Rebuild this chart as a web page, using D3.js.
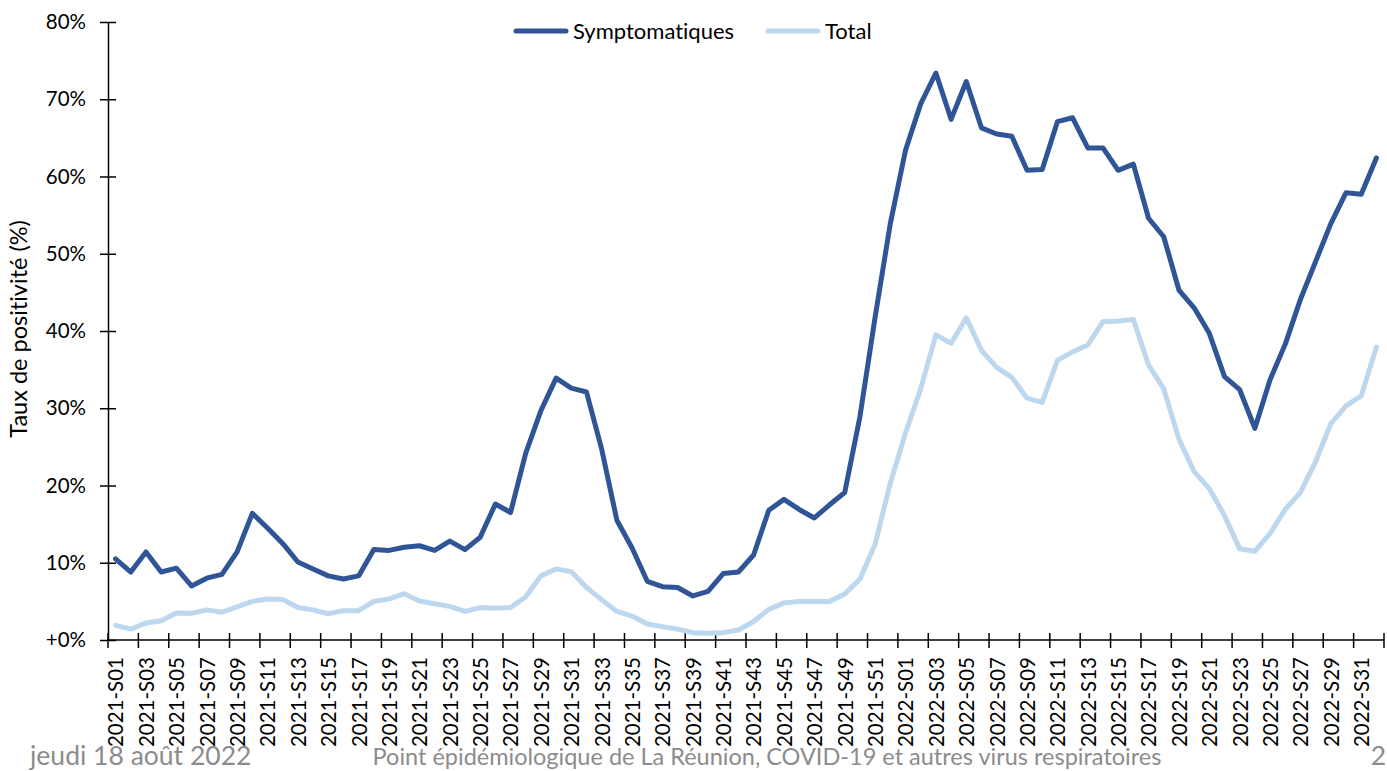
<!DOCTYPE html>
<html>
<head>
<meta charset="utf-8">
<script src="https://cdn.jsdelivr.net/npm/d3@7"></script>
<style>
  body { margin: 0; background: #fff; }
  svg { display: block; font-family: Lato, "Noto Sans", sans-serif; font-variant-ligatures: none; }
</style>
</head>
<body>
<div id="chart"></div>
<script>
// weeks 2021-S01 .. 2022-S32
var weeks = [];
for (var w = 1; w <= 52; w++) weeks.push("2021-S" + (w < 10 ? "0" + w : w));
for (var w = 1; w <= 32; w++) weeks.push("2022-S" + (w < 10 ? "0" + w : w));

// taux de positivite, symptomatiques (%)
var sympto = [
  10.5, 8.8, 11.4, 8.8, 9.3, 7.0, 8.0, 8.5, 11.4, 16.4,
  14.5, 12.5, 10.1, 9.2, 8.3, 7.9, 8.3, 11.7, 11.6, 12.0,
  12.2, 11.6, 12.8, 11.7, 13.3, 17.6, 16.5, 24.2, 29.7, 33.9,
  32.6, 32.1, 24.7, 15.5, 11.9, 7.6, 6.9, 6.8, 5.7, 6.3,
  8.6, 8.8, 11.0, 16.8, 18.2, 16.9, 15.8, 17.5, 19.1, 28.9,
  41.8, 53.9,
  63.4, 69.4, 73.4, 67.4, 72.3, 66.3, 65.5, 65.2, 60.8, 60.9,
  67.1, 67.6, 63.7, 63.7, 60.8, 61.6, 54.6, 52.2, 45.3, 43.0,
  39.7, 34.1, 32.4, 27.4, 33.7, 38.3, 44.1, 49.0, 53.9, 57.9,
  57.7, 62.4
];

// taux de positivite, total (%)
var total = [
  1.9, 1.4, 2.2, 2.5, 3.5, 3.45, 3.9, 3.6, 4.3, 5.0,
  5.3, 5.25, 4.2, 3.9, 3.4, 3.8, 3.8, 5.0, 5.3, 6.0,
  5.05, 4.7, 4.35, 3.7, 4.2, 4.1, 4.2, 5.6, 8.3, 9.2,
  8.85, 6.8, 5.2, 3.7, 3.1, 2.07, 1.73, 1.4, 0.95, 0.86,
  0.95, 1.3, 2.4, 3.97, 4.8, 5.0, 5.0, 5.0, 5.95, 7.9,
  12.4, 20.3,
  26.8, 32.5, 39.5, 38.4, 41.7, 37.5, 35.3, 34.0, 31.3, 30.75,
  36.2, 37.3, 38.2, 41.2, 41.3, 41.5, 35.6, 32.5, 26.0, 21.8,
  19.6, 16.1, 11.8, 11.5, 13.8, 16.9, 19.1, 23.1, 28.0, 30.3,
  31.6, 37.9
];

var yTicks = [0, 10, 20, 30, 40, 50, 60, 70, 80];
var yTickLabels = ["+0%", "10%", "20%", "30%", "40%", "50%", "60%", "70%", "80%"];

var seriesNames = ["Symptomatiques", "Total"];
var seriesColors = ["#2F5597", "#BDD7EE"];

var W = 1387, H = 771;
var plot = {left: 108, right: 1384, top: 22, bottom: 640};

var svg = d3.select("#chart").append("svg")
    .attr("width", W)
    .attr("height", H);

var x = d3.scalePoint()
    .domain(weeks)
    .range([plot.left, plot.right])
    .padding(0.5);
var step = x.step();

var y = d3.scaleLinear()
    .domain([0, 80])
    .range([plot.bottom, plot.top]);

// y axis
var yAxis = svg.append("g")
    .attr("transform", "translate(" + plot.left + ",0)")
    .call(d3.axisLeft(y)
        .tickValues(yTicks)
        .tickSize(8)
        .tickSizeOuter(0)
        .tickFormat(function(d, i) { return yTickLabels[i]; }));
yAxis.select(".domain").attr("stroke", "#000").attr("stroke-width", 1.5);
yAxis.selectAll(".tick line").attr("x2", 8).attr("x1", -8).attr("stroke-width", 1.5);
yAxis.selectAll(".tick text")
    .attr("x", -22)
    .attr("font-size", 20.5)
    .attr("font-family", "Lato, sans-serif")
    .attr("fill", "#000");

// x axis line + tick marks between every 2 categories
svg.append("line")
    .attr("x1", plot.left).attr("x2", plot.right)
    .attr("y1", plot.bottom).attr("y2", plot.bottom)
    .attr("stroke", "#000").attr("stroke-width", 1.5);

var boundaries = weeks.filter(function(d, i) { return i % 2 === 0; })
    .map(function(d) { return x(d) - step / 2; });
boundaries.push(plot.right);
svg.append("g").selectAll("line")
    .data(boundaries)
    .enter().append("line")
    .attr("x1", function(d) { return d; })
    .attr("x2", function(d) { return d; })
    .attr("y1", plot.bottom - 7)
    .attr("y2", plot.bottom + 8)
    .attr("stroke", "#000")
    .attr("stroke-width", 1.5);

// x labels
var xAxis = svg.append("g")
    .attr("transform", "translate(0," + plot.bottom + ")")
    .call(d3.axisBottom(x)
        .tickValues(weeks.filter(function(d, i) { return i % 2 === 0; }))
        .tickSize(0));
xAxis.select(".domain").remove();
xAxis.selectAll(".tick text")
    .attr("transform", "translate(0,17)rotate(-90)")
    .attr("x", 0)
    .attr("y", 0)
    .attr("dy", "0.36em")
    .style("text-anchor", "end")
    .attr("font-size", 20.5)
    .attr("font-family", "Lato, sans-serif")
    .attr("fill", "#000");

// y title
svg.append("text")
    .attr("transform", "translate(27,329)rotate(-90)")
    .attr("text-anchor", "middle")
    .attr("font-size", 23.5)
    .attr("fill", "#000")
    .text("Taux de positivité (%)");

// lines
var line = d3.line()
    .x(function(d, i) { return x(weeks[i]); })
    .y(function(d) { return y(d); });

svg.append("path")
    .datum(total)
    .attr("fill", "none")
    .attr("stroke", seriesColors[1])
    .attr("stroke-width", 5)
    .attr("stroke-linejoin", "round")
    .attr("stroke-linecap", "round")
    .attr("d", line);

svg.append("path")
    .datum(sympto)
    .attr("fill", "none")
    .attr("stroke", seriesColors[0])
    .attr("stroke-width", 5)
    .attr("stroke-linejoin", "round")
    .attr("stroke-linecap", "round")
    .attr("d", line);

// legend
var legendX = [516, 768];
var legend = svg.selectAll(".legend")
    .data(seriesNames)
    .enter().append("g")
    .attr("class", "legend")
    .attr("transform", function(d, i) { return "translate(" + legendX[i] + ",31)"; });
legend.append("line")
    .attr("x1", 0).attr("x2", 50)
    .attr("stroke", function(d, i) { return seriesColors[i]; })
    .attr("stroke-width", 5)
    .attr("stroke-linecap", "round");
legend.append("text")
    .attr("x", 57)
    .attr("dy", "0.36em")
    .attr("font-size", 22)
    .attr("fill", "#000")
    .text(function(d) { return d; });

// footer
var footer = svg.append("g")
    .attr("fill", "#8c8c8c");
footer.append("text").attr("x", 30).attr("y", 765).attr("font-size", 26.5)
    .text("jeudi 18 août 2022");
footer.append("text").attr("x", 767).attr("y", 765).attr("text-anchor", "middle").attr("font-size", 23.5)
    .text("Point épidémiologique de La Réunion, COVID-19 et autres virus respiratoires");
footer.append("text").attr("x", 1386).attr("y", 765).attr("text-anchor", "end").attr("font-size", 26.5)
    .text("2");
</script>
</body>
</html>
